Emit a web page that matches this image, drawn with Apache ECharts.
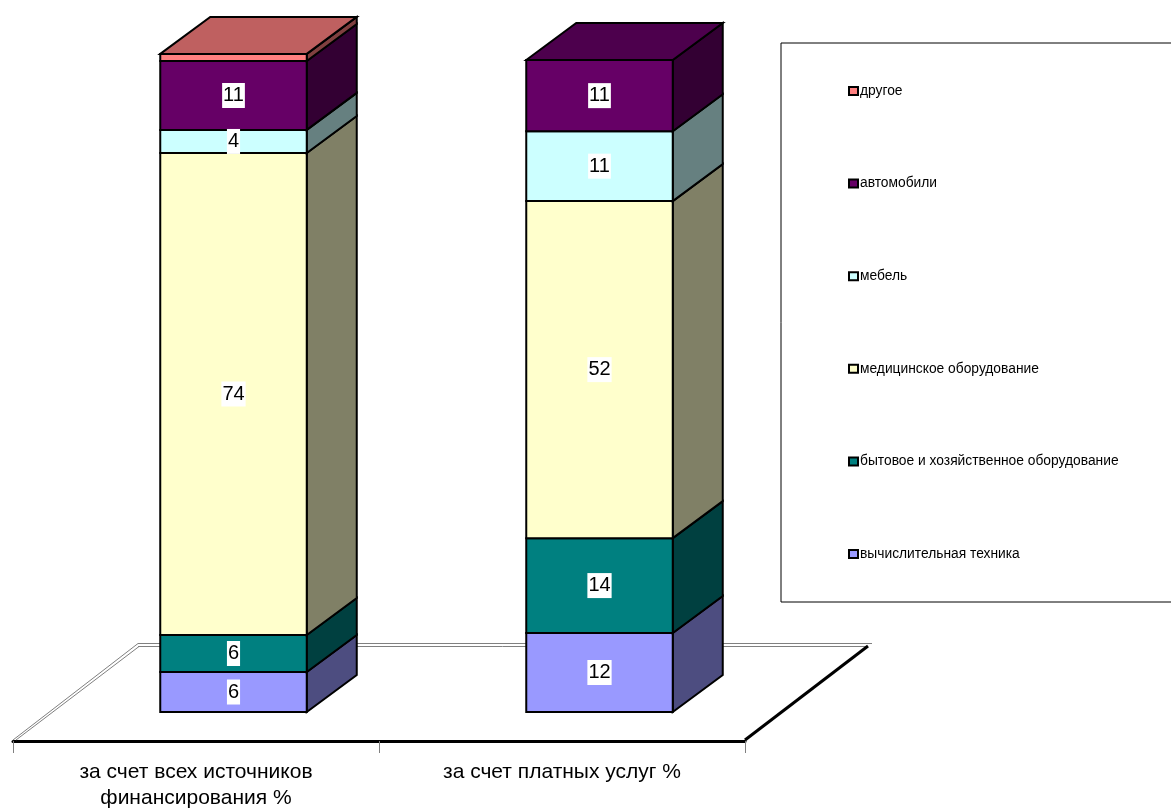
<!DOCTYPE html>
<html>
<head>
<meta charset="utf-8">
<style>html,body{margin:0;padding:0;background:#fff;overflow:hidden}#c{width:1171px;height:808px}</style>
<script src="https://cdn.jsdelivr.net/npm/echarts@6/dist/echarts.min.js"></script>
</head>
<body>
<div id="c"></div>
<script>
const categories = ['за счет всех источников\nфинансирования %', 'за счет платных услуг %'];
const layerNames = ['вычислительная техника', 'бытовое и хозяйственное оборудование', 'медицинское оборудование', 'мебель', 'автомобили', 'другое'];
const computers = [6.15, 12.15];
const household = [5.7, 14.6];
const medical = [74.15, 51.85];
const furniture = [3.55, 10.75];
const cars = [10.6, 10.95];
const other = [1.1, 0];
const layerValues = [computers, household, medical, furniture, cars, other];
const computersLabels = ['6', '12'];
const householdLabels = ['6', '14'];
const medicalLabels = ['74', '52'];
const furnitureLabels = ['4', '11'];
const carsLabels = ['11', '11'];
const otherLabels = ['', ''];
const layerLabels = [computersLabels, householdLabels, medicalLabels, furnitureLabels, carsLabels, otherLabels];
const frontColors = ['#9999FF', '#008080', '#FFFFCC', '#CCFFFF', '#660066', '#FF8080'];
const sideColors = ['#4D4D80', '#004040', '#808066', '#668080', '#330033', '#804040'];
const topColors = ['#7373BF', '#006060', '#BFBF99', '#99BFBF', '#4D004D', '#BF6060'];

const FONT = '"Liberation Sans", Arial, sans-serif';
const BAR_W = 146.5, BAR_SHIFT = 37.5, DX = 50, DY = 37;

function renderFloor(params, api) {
  const cs = params.coordSys;
  const y0 = cs.y + cs.height + 29, x0 = cs.x, x1 = cs.x + cs.width;
  const fx = 125, fy = 96;
  const ln = (a, b, c, d, color, w) => ({
    type: 'line', shape: { x1: a, y1: b, x2: c, y2: d },
    style: { stroke: color, lineWidth: w, fill: null }
  });
  return {
    type: 'group', children: [
      ln(x0 + fx, y0 - fy - 1.5, x1 + fx + 2, y0 - fy - 1.5, '#808080', 1),
      ln(x0 + fx, y0 - fy + 1.5, x1 + fx - 3, y0 - fy + 1.5, '#808080', 1),
      ln(x0, y0 - 1, x0 + fx, y0 - fy - 1.5, '#808080', 1),
      ln(x0 + 3, y0 - 1, x0 + fx + 1, y0 - fy + 1.5, '#808080', 1),
      ln(x1, y0 - 1, x1 + fx - 2, y0 - fy + 1, '#000', 3)
    ]
  };
}

function makeRender(layer) {
  return function (params, api) {
    const cat = api.value(0), start = api.value(1), end = api.value(2);
    if (end <= start) return null;
    const c0 = api.coord([cat, start]), c1 = api.coord([cat, end]);
    const L = c0[0] + BAR_SHIFT - BAR_W / 2, R = L + BAR_W, B = c0[1], T = c1[1];
    const edge = { stroke: '#000', lineWidth: 2, lineJoin: 'miter' };
    const children = [
      { type: 'polygon', shape: { points: [[R, B], [R + DX, B - DY], [R + DX, T - DY], [R, T]] },
        style: Object.assign({ fill: sideColors[layer] }, edge) },
      { type: 'rect', shape: { x: L, y: T, width: BAR_W, height: B - T },
        style: Object.assign({ fill: frontColors[layer] }, edge) }
    ];
    const total = layerValues.reduce((s, a) => s + a[cat], 0);
    if (Math.abs(end - total) < 1e-6) {
      children.push({ type: 'polygon', shape: { points: [[L, T], [L + DX, T - DY], [R + DX, T - DY], [R, T]] },
        style: Object.assign({ fill: topColors[layer] }, edge) });
    }
    const label = layerLabels[layer][cat];
    if (label) {
      children.push({ type: 'text', z2: 10, style: {
        x: (L + R) / 2, y: (T + B) / 2, text: label,
        fill: '#000', font: '20px ' + FONT, align: 'center', verticalAlign: 'middle',
        backgroundColor: '#fff', padding: [3, 1, 2, 1]
      }});
    }
    return { type: 'group', children };
  };
}

const running = categories.map(() => 0);
const layerSeries = layerNames.map((name, k) => ({
  name, type: 'custom', clip: false, silent: true,
  coordinateSystem: 'cartesian2d',
  itemStyle: { color: frontColors[k] },
  encode: { x: 0, y: [1, 2] },
  renderItem: makeRender(k),
  data: layerValues[k].map((v, i) => {
    const s = running[i]; running[i] += v;
    return [i, s, running[i]];
  })
}));

const chart = echarts.init(document.getElementById('c'), null, { renderer: 'canvas' });
chart.setOption({
  animation: false,
  backgroundColor: '#fff',
  grid: { left: 13, width: 732, top: 10, bottom: 96, containLabel: false, outerBoundsMode: 'none' },
  xAxis: {
    type: 'category', data: categories, offset: 29, position: 'bottom',
    axisLine: { show: true, onZero: false, lineStyle: { color: '#000', width: 3 } },
    axisTick: { show: true, length: 12, lineStyle: { color: '#808080', width: 1 } },
    axisLabel: { color: '#000', fontFamily: FONT, fontSize: 21, lineHeight: 26, margin: 18, interval: 0 },
    splitLine: { show: false }
  },
  yAxis: { type: 'value', min: 0, max: 108, show: false, splitLine: { show: false } },
  legend: {
    show: true, orient: 'vertical', left: 781, top: 43,
    padding: [41, 90, 41, 67],
    borderColor: '#000', borderWidth: 1, backgroundColor: '#fff',
    itemWidth: 9, itemHeight: 8, itemGap: 78.6,
    icon: 'rect',
    textStyle: { color: '#000', fontFamily: FONT, fontSize: 13.8, padding: [0, 0, 0, -3] },
    itemStyle: { borderColor: '#000', borderWidth: 2 },
    data: layerNames.slice().reverse(),
    selectedMode: false
  },
  series: [{
    type: 'custom', silent: true, clip: false, coordinateSystem: 'cartesian2d', z: 1,
    renderItem: renderFloor, encode: { x: 0, y: 1 }, data: [[0, 0]]
  }].concat(layerSeries.map(s => Object.assign(s, { z: 2 })))
});
</script>
</body>
</html>
